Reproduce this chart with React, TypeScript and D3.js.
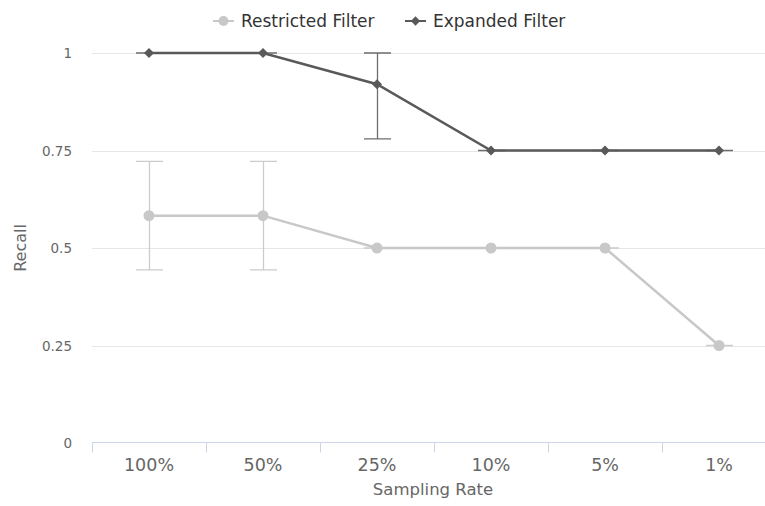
import React, { useEffect, useRef } from "react";
import * as d3 from "d3";

const categories = ["100%", "50%", "25%", "10%", "5%", "1%"];
const restricted = [0.583, 0.583, 0.5, 0.5, 0.5, 0.25];
const restrictedLow = [0.444, 0.444, 0.5, 0.5, 0.5, 0.25];
const restrictedHigh = [0.722, 0.722, 0.5, 0.5, 0.5, 0.25];
const expanded = [1, 1, 0.92, 0.75, 0.75, 0.75];
const expandedLow = [1, 1, 0.78, 0.75, 0.75, 0.75];
const expandedHigh = [1, 1, 1, 0.75, 0.75, 0.75];
const yTicks = [0, 0.25, 0.5, 0.75, 1];

const W = 765;
const H = 506;
const FONT = "'DejaVu Sans', Verdana, sans-serif";

export default function App() {
  const ref = useRef<SVGSVGElement>(null);

  useEffect(() => {
    if (!ref.current) return;
    const svg = d3.select(ref.current);
    svg.selectAll("*").remove();

    const x = d3.scaleBand().domain(categories).range([92, 776]);
    const y = d3.scaleLinear().domain([0, 1]).range([443, 53]);
    const cx = (i: number) => (x(categories[i]) as number) + x.bandwidth() / 2;

    // grid lines
    svg
      .append("g")
      .selectAll("line")
      .data(yTicks.filter((t) => t > 0))
      .join("line")
      .attr("x1", 92)
      .attr("x2", W)
      .attr("y1", (d) => Math.round(y(d)) + 0.5)
      .attr("y2", (d) => Math.round(y(d)) + 0.5)
      .attr("stroke", "#e6e6e6");

    // y tick labels
    svg
      .append("g")
      .selectAll("text")
      .data(yTicks)
      .join("text")
      .attr("x", 72)
      .attr("y", (d) => y(d) + 5)
      .attr("text-anchor", "end")
      .attr("fill", "#666666")
      .style("font-family", FONT)
      .style("font-size", "13.5px")
      .text((d) => String(d));

    // x axis
    const xAxis = svg
      .append("g")
      .attr("transform", `translate(0,${Math.round(y(0)) - 0.5})`)
      .call(d3.axisBottom(x).tickSize(0).tickPadding(16));
    xAxis.select(".domain").attr("stroke", "#ccd6eb").attr("d", `M92,0H${W}`);
    xAxis
      .selectAll(".tick text")
      .attr("fill", "#666666")
      .style("font-family", FONT)
      .style("font-size", "17.5px");
    xAxis
      .append("g")
      .selectAll("line")
      .data(d3.range(categories.length + 1))
      .join("line")
      .attr("x1", (i) => 92.5 + i * x.bandwidth())
      .attr("x2", (i) => 92.5 + i * x.bandwidth())
      .attr("y1", 0)
      .attr("y2", 10)
      .attr("stroke", "#ccd6eb");

    // axis titles
    svg
      .append("text")
      .attr("x", 433)
      .attr("y", 495)
      .attr("text-anchor", "middle")
      .attr("fill", "#666666")
      .style("font-family", FONT)
      .style("font-size", "16.5px")
      .text("Sampling Rate");
    svg
      .append("text")
      .attr("transform", "translate(26,248) rotate(-90)")
      .attr("text-anchor", "middle")
      .attr("fill", "#666666")
      .style("font-family", FONT)
      .style("font-size", "16px")
      .text("Recall");

    const line = d3
      .line<number>()
      .x((_, i) => cx(i))
      .y((d) => y(d));

    const errorBars = (low: number[], high: number[], color: string) => {
      const g = svg.append("g").attr("stroke", color).attr("stroke-width", 1.3).attr("fill", "none");
      low.forEach((lo, i) => {
        const c = Math.round(cx(i)) + 0.5;
        const yl = y(lo);
        const yh = y(high[i]);
        g.append("path").attr("d", `M${c},${yh}V${yl}M${c - 13.5},${yh}H${c + 13.5}M${c - 13.5},${yl}H${c + 13.5}`);
      });
    };

    // restricted series
    errorBars(restrictedLow, restrictedHigh, "#cccccc");
    svg
      .append("path")
      .datum(restricted)
      .attr("d", line)
      .attr("fill", "none")
      .attr("stroke", "#c8c8c8")
      .attr("stroke-width", 2.5);
    svg
      .append("g")
      .selectAll("circle")
      .data(restricted)
      .join("circle")
      .attr("cx", (_, i) => cx(i))
      .attr("cy", (d) => y(d))
      .attr("r", 5.5)
      .attr("fill", "#c8c8c8");

    // expanded series
    errorBars(expandedLow, expandedHigh, "#6e6e6e");
    svg
      .append("path")
      .datum(expanded)
      .attr("d", line)
      .attr("fill", "none")
      .attr("stroke", "#595959")
      .attr("stroke-width", 2.5);
    const diamond = d3.symbol().type(d3.symbolDiamond2).size(64);
    svg
      .append("g")
      .selectAll("path")
      .data(expanded)
      .join("path")
      .attr("transform", (d, i) => `translate(${cx(i)},${y(d)})`)
      .attr("d", diamond)
      .attr("fill", "#595959");

    // legend
    const legend = svg.append("g").style("font-family", FONT).style("font-size", "17px");
    const items = [
      { name: "Restricted Filter", color: "#c8c8c8", x: 213, shape: "circle" },
      { name: "Expanded Filter", color: "#595959", x: 405, shape: "diamond" },
    ];
    items.forEach((it) => {
      const g = legend.append("g").attr("transform", `translate(${it.x},21)`);
      g.append("line").attr("x1", 0).attr("x2", 21).attr("stroke", it.color).attr("stroke-width", 2);
      if (it.shape === "circle") {
        g.append("circle").attr("cx", 10.5).attr("r", 5).attr("fill", it.color);
      } else {
        g.append("path").attr("transform", "translate(10.5,0)").attr("d", d3.symbol().type(d3.symbolDiamond2).size(55)).attr("fill", it.color);
      }
      g.append("text").attr("x", 28).attr("y", 6).attr("fill", "#333333").text(it.name);
    });
  }, []);

  return (
    <svg ref={ref} width={W} height={H} style={{ position: "absolute", left: 0, top: 0, background: "#fff" }} />
  );
}
